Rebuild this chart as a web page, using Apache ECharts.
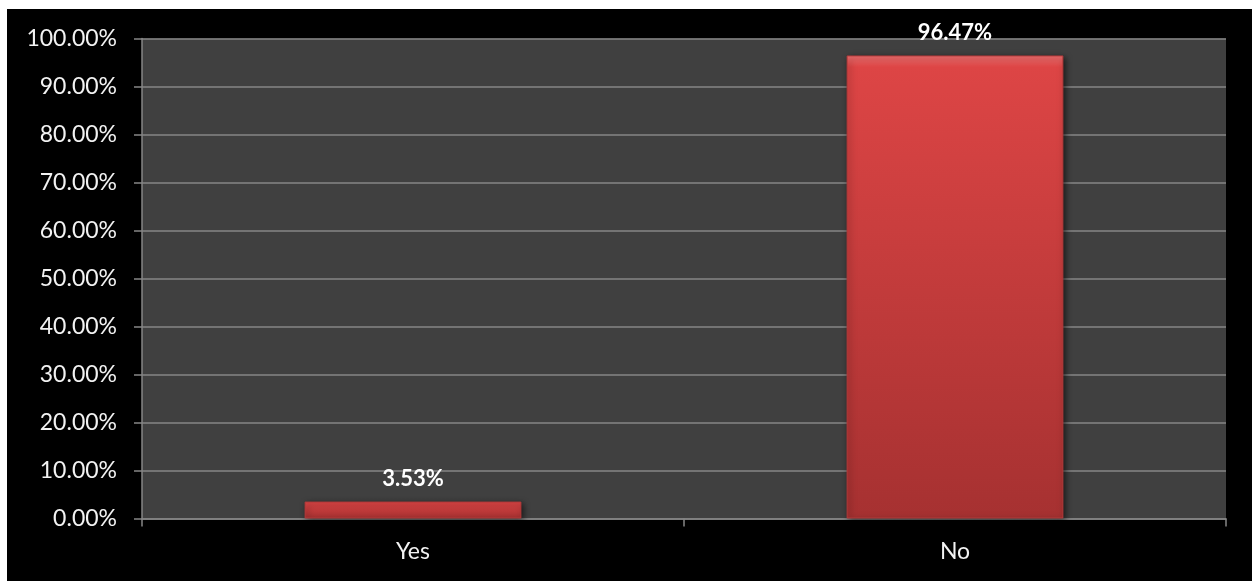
<!DOCTYPE html>
<html>
<head>
<meta charset="utf-8">
<script src="https://cdn.jsdelivr.net/npm/echarts@6/dist/echarts.min.js"></script>
<style>
html,body{margin:0;padding:0;background:#ffffff;width:1252px;height:581px;overflow:hidden;}
#c{position:absolute;left:7px;top:9px;width:1245px;height:572px;background:#000;}
</style>
</head>
<body>
<div id="c"></div>
<script>
const categories = ['Yes', 'No'];
const values = [3.53, 96.47];
const yMin = 0, yMax = 100, yStep = 10;

const chart = echarts.init(document.getElementById('c'), null, {renderer: 'canvas'});
chart.setOption({
  backgroundColor: '#000000',
  animation: false,
  grid: {left: 135, right: 26, top: 29.5, bottom: 62.5, show: true, backgroundColor: '#404040', borderWidth: 0},
  xAxis: {
    type: 'category',
    data: categories,
    axisLine: {show: true, lineStyle: {color: '#868686', width: 1.5}},
    axisTick: {show: true, alignWithLabel: false, length: 8, lineStyle: {color: '#868686', width: 1.5}},
    axisLabel: {color: '#f2f2f2', fontSize: 23, fontFamily: 'Lato', margin: 22}
  },
  yAxis: {
    type: 'value',
    min: yMin, max: yMax, interval: yStep,
    axisLine: {show: true, lineStyle: {color: '#868686', width: 1.5}},
    axisTick: {show: true, length: 8, lineStyle: {color: '#868686', width: 1.5}},
    splitLine: {show: true, lineStyle: {color: '#868686', width: 1.5}},
    axisLabel: {color: '#f2f2f2', fontSize: 23, fontFamily: 'Lato', margin: 25,
      formatter: v => v.toFixed(2) + '%'}
  },
  series: [{
    type: 'bar',
    data: values,
    barWidth: '40%',
    itemStyle: {
      color: new echarts.graphic.LinearGradient(0, 0, 0, 1, [
        {offset: 0, color: '#f07070'},
        {offset: 0.025, color: '#dd4545'},
        {offset: 1, color: '#a63131'}
      ]),
      borderColor: '#b33a3a',
      borderWidth: 1,
      shadowColor: 'rgba(0,0,0,0.6)',
      shadowBlur: 6,
      shadowOffsetX: 2,
      shadowOffsetY: 2
    },
    label: {
      show: true, position: 'top', distance: 12,
      color: '#ffffff', fontWeight: 'bold', fontSize: 22, fontFamily: 'Lato',
      formatter: p => p.value.toFixed(2) + '%'
    }
  }]
});
</script>
</body>
</html>
